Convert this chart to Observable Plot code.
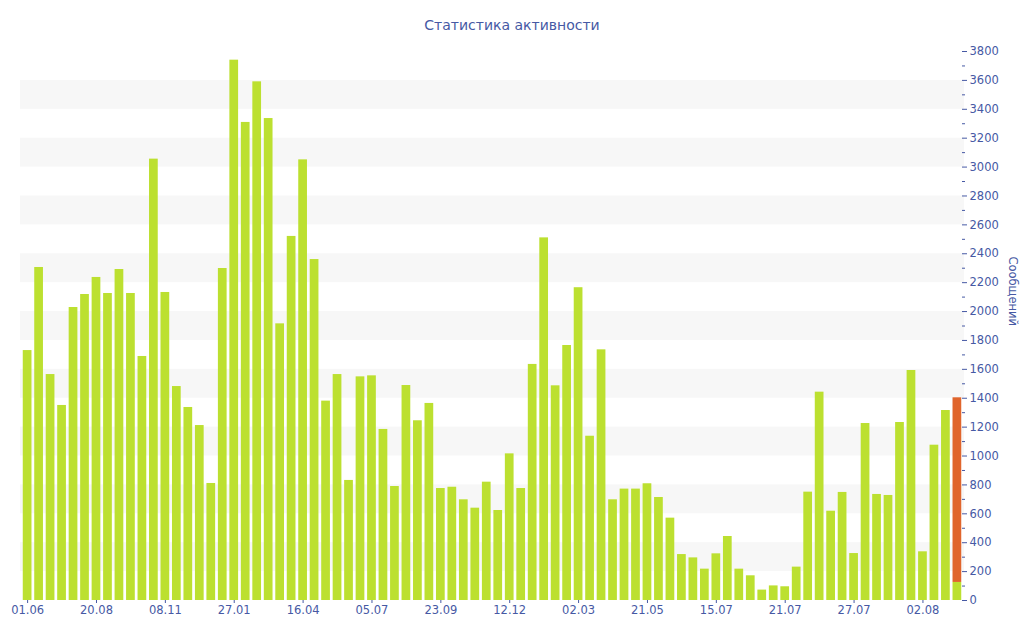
<!DOCTYPE html>
<html>
<head>
<meta charset="utf-8">
<script src="https://cdn.jsdelivr.net/npm/d3@7"></script>
<script src="https://cdn.jsdelivr.net/npm/@observablehq/plot@0.6"></script>
<style>
  html, body { margin: 0; padding: 0; background: #fff; }
  #title { height: 40px; line-height: 50px; text-align: center; font-family: "DejaVu Sans", sans-serif; font-size: 14px; color: #4659a4; }
  #chart svg { display: block; }
</style>
</head>
<body>
<div id="title">Статистика активности</div>
<div id="chart"></div>
<script>
// Messages per period (green) and extra part of the last period (orange)
const messages = [
  1730, 2305, 1564, 1350, 2028, 2118, 2236, 2125, 2291, 2125,
  1689, 3055, 2132, 1481, 1336, 1211, 810, 2298, 3740, 3309,
  3590, 3336, 1915, 2520, 3050, 2360, 1380, 1564, 831, 1548,
  1555, 1184, 789, 1488, 1244, 1364, 775, 784, 697, 639,
  819, 623, 1015, 775, 1634, 2510, 1486, 1765, 2165, 1137,
  1735, 697, 771, 771, 808, 713, 570, 318, 295, 217,
  323, 443, 217, 171, 72, 101, 95, 231, 750, 1442,
  618, 748, 325, 1225, 734, 727, 1232, 1592, 337, 1075,
  1315, 125
];
const extra = new Array(81).fill(0).concat([1278]);
// Tick labels every 6th period
const tickIndex = [0, 6, 12, 18, 24, 30, 36, 42, 48, 54, 60, 66, 72, 78];
const tickLabels = ["01.06", "20.08", "08.11", "27.01", "16.04", "05.07", "23.09", "12.12", "02.03", "21.05", "15.07", "21.07", "27.07", "02.08"];
const yMajor = d3.range(0, 3801, 200);
const yMinor = d3.range(0, 3801, 100);
const stripeStarts = d3.range(200, 3800, 400);

const idx = d3.range(messages.length);
const table = [];
idx.forEach(i => {
  table.push({i, series: "main", v: messages[i]});
  table.push({i, series: "extra", v: extra[i]});
});
const labelOf = new Map(tickIndex.map((t, k) => [t, tickLabels[k]]));
const ink = "#4659a4";

const chart = Plot.plot({
  width: 1024,
  height: 600,
  marginTop: 11,
  marginBottom: 40,
  marginLeft: 20,
  marginRight: 60,
  style: {fontFamily: "DejaVu Sans, sans-serif", fontSize: "11.5px", color: ink, background: "#fff"},
  x: {type: "band", domain: idx, padding: 0.24, label: null},
  y: {domain: [0, 3800], label: null},
  color: {domain: ["main", "extra"], range: ["#bce030", "#e0652c"]},
  marks: [
    Plot.rect(stripeStarts, {y1: d => d, y2: d => d + 200, fill: "#f7f7f7"}),
    Plot.barY(table, {x: "i", y: "v", fill: "series", order: ["main", "extra"]}),
    Plot.axisY({anchor: "right", ticks: yMinor, tickSize: 3, dx: -3, tickFormat: () => "", stroke: ink}),
    Plot.axisY({anchor: "right", ticks: yMajor, tickSize: 2, tickPadding: 3, tickFormat: d => String(d), stroke: ink, fill: ink, line: true, label: null}),
    Plot.axisX({anchor: "bottom", ticks: tickIndex, tickFormat: d => labelOf.get(d), tickSize: 3, tickPadding: 2, stroke: ink, fill: ink, line: true, label: null}),
    Plot.text(["Сообщений"], {frameAnchor: "right", dx: 48, rotate: 90, fill: ink, fontSize: 11.5, text: d => d})
  ]
});
document.getElementById("chart").appendChild(chart);
</script>
</body>
</html>
